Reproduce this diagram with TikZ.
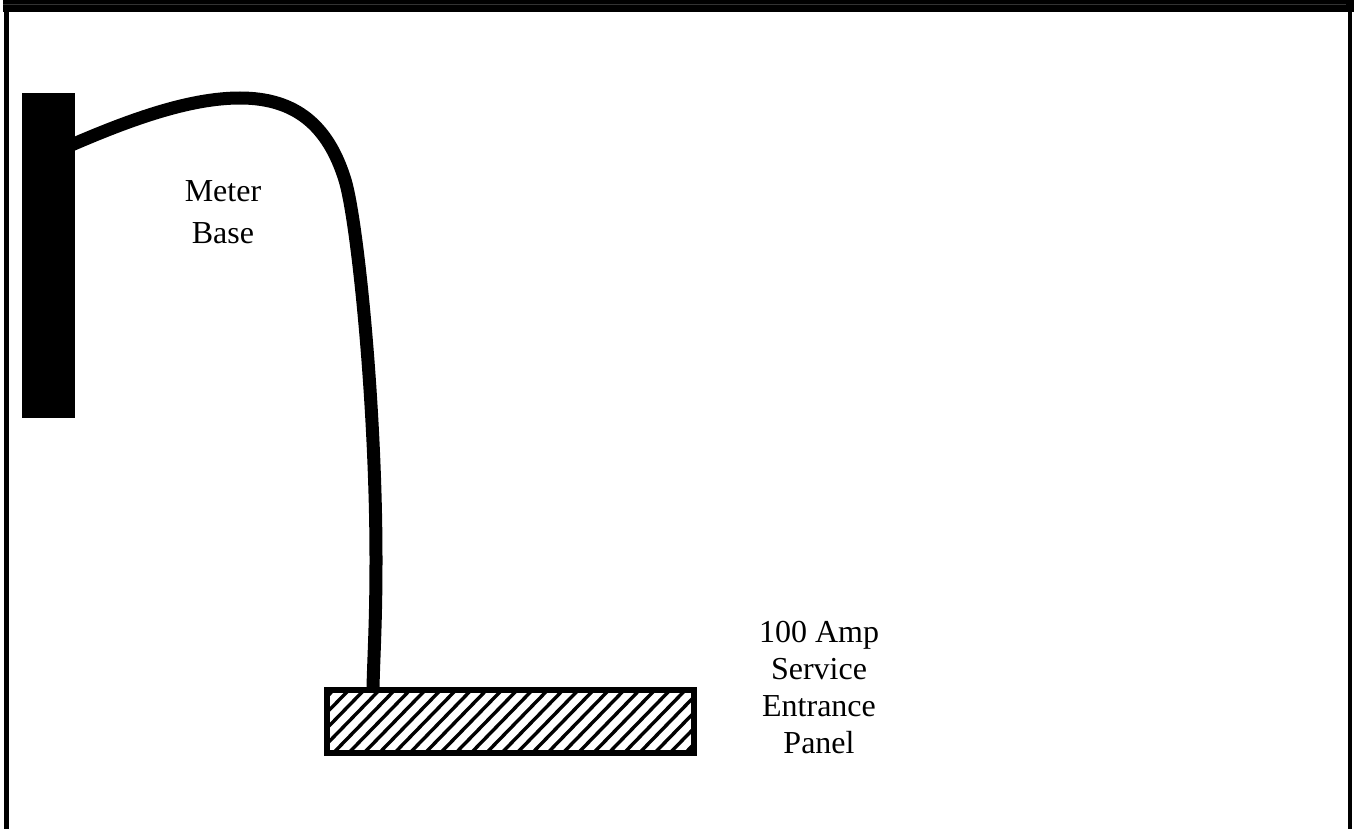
\documentclass[tikz,border=0pt]{standalone}
\usepackage{fontspec}
\setmainfont{Liberation Serif}
\usetikzlibrary{calc,positioning}
\definecolor{framegray}{HTML}{333333}
\tikzset{
 meterbox/.style={fill=black,draw=none,inner sep=0pt,minimum width=26.5pt,minimum height=162.5pt},
 panelbox/.style={draw=black,line width=3pt,inner sep=0pt,minimum width=183.5pt,minimum height=31.5pt},
 feeder/.style={line width=6.5pt,draw=black},
 caption/.style={align=center,inner sep=0pt}
}
\begin{document}
\begin{tikzpicture}[x=0.5pt,y=-0.5pt]
 \useasboundingbox(0,0)rectangle(1354,829);
 % frame
 \fill[black](3,0)rectangle(1354,12);
 \fill[framegray](3,4)rectangle(1346,5);
 \fill[black](4,12)rectangle(9,829);
 \fill[black](1348,12)rectangle(1352,829);
 % hatching of the panel
 \begin{scope}
  \clip(327,690)rectangle(694,753);
  \foreach \x in {250,265.3,...,720}{\draw[line width=1.7pt,black](\x,760)--(\x+76,682);}
 \end{scope}
 \coordinate(tap)at(60,150);
 \coordinate(drop)at(373,687);
 \draw[feeder](tap)..controls(130,119)and(190,98)..(240,98)..controls(295,98)and(328,125)..(345,180)..controls(357,219)and(376,400)..(376,560)..controls(376,620)and(374,650)..(drop);
 \node[meterbox](meter)at(48.5,255.5){};
 \node[panelbox](panel)at(510.5,721.5){};
 \node[caption,font=\fontsize{16}{21}\selectfont](meterlabel)at(223,212){Meter\\Base};
 \node[caption,font=\fontsize{16}{18.5}\selectfont](panellabel)at(819,688){100 Amp\\Service\\Entrance\\Panel};
\end{tikzpicture}
\end{document}
